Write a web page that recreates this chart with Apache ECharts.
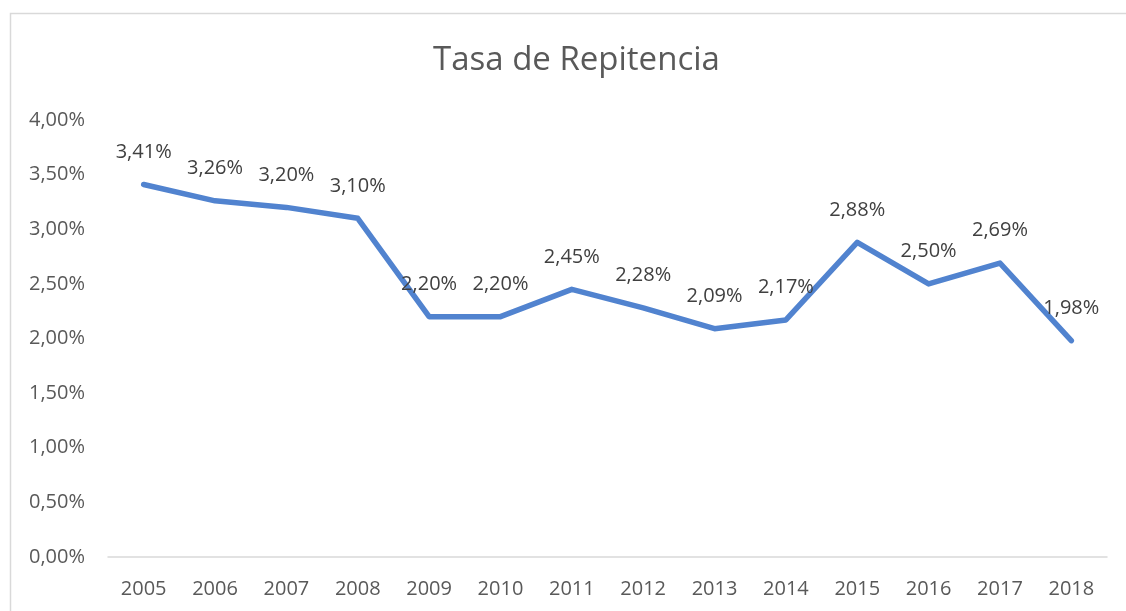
<!DOCTYPE html>
<html>
<head>
<meta charset="utf-8">
<script src="https://cdn.jsdelivr.net/npm/echarts@6/dist/echarts.min.js"></script>
<style>html,body{margin:0;padding:0;background:#fff}#c{width:1126px;height:611px}</style>
</head>
<body>
<div id="c"></div>
<script>
var titleText = 'Tasa de Repitencia';
var years = ['2005','2006','2007','2008','2009','2010','2011','2012','2013','2014','2015','2016','2017','2018'];
var rates = [3.41, 3.26, 3.20, 3.10, 2.20, 2.20, 2.45, 2.28, 2.09, 2.17, 2.88, 2.50, 2.69, 1.98];
var yMin = 0, yMax = 4, yStep = 0.5;

function pct(v) { return v.toFixed(2).replace('.', ',') + '%'; }

var chart = echarts.init(document.getElementById('c'), null, {renderer: 'canvas'});
var font = 'Open Sans';
chart.setOption({
  animation: false,
  backgroundColor: '#ffffff',
  graphic: [{
    type: 'rect', left: 8, top: 11, z: -1,
    shape: {width: 1130, height: 610},
    style: {fill: 'none', stroke: '#d9d9d9', lineWidth: 1.5}
  }],
  title: {
    text: titleText, left: 428, top: 39,
    textStyle: {fontFamily: font, fontSize: 33, fontWeight: 'normal', color: '#595959'}
  },
  grid: {left: 108, right: 19, top: 120, bottom: 54},
  xAxis: {
    type: 'category', data: years, boundaryGap: true,
    axisLine: {show: true, lineStyle: {color: '#d9d9d9', width: 1.5}},
    axisTick: {show: false},
    axisLabel: {fontFamily: font, fontSize: 20, color: '#595959', margin: 22}
  },
  yAxis: {
    type: 'value', min: yMin, max: yMax, interval: yStep,
    axisLine: {show: false}, axisTick: {show: false},
    splitLine: {show: false},
    axisLabel: {fontFamily: font, fontSize: 20, color: '#595959', margin: 23,
      padding: [6, 0, 0, 0], formatter: pct}
  },
  series: [{
    type: 'line', data: rates, showSymbol: true, symbol: 'circle', symbolSize: 1,
    itemStyle: {color: 'rgba(0,0,0,0)'},
    lineStyle: {color: '#5183cf', width: 5.5, cap: 'round', join: 'round'},
    labelLayout: {hideOverlap: false},
    label: {
      show: true, position: 'top', distance: 22,
      fontFamily: font, fontSize: 20, color: '#404040',
      formatter: function (p) { return pct(p.value); }
    }
  }]
});
</script>
</body>
</html>
